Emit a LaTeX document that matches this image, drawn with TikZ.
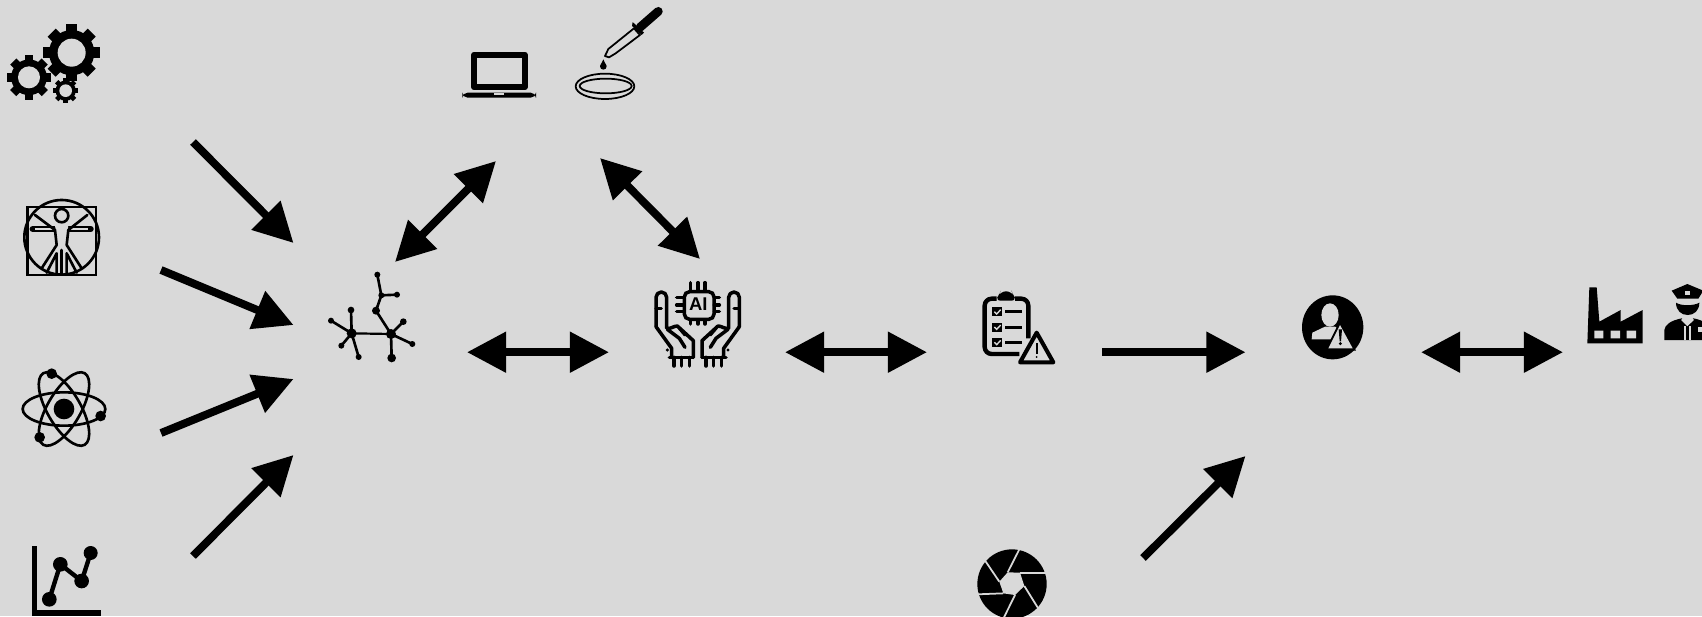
\documentclass[tikz,border=0pt]{standalone}
\usepackage{fontspec}
\setmainfont{Liberation Sans}
\usetikzlibrary{arrows.meta}
\definecolor{bgc}{HTML}{D9D9D9}
\tikzset{
  arrowline/.style={line width=4.5pt,-{Triangle[length=22.3pt,width=22.3pt]}},
  bothline/.style={line width=4.5pt,{Triangle[length=22.3pt,width=22.3pt]}-{Triangle[length=22.3pt,width=22.3pt]}},
  zoomed/.style={x=0.0066667cm,y=-0.0066667cm},
  ink/.style={draw=black,line width=#1*0.25pt},
  ink/.default=5,
  rink/.style={draw=black,line width=#1*0.25pt,line join=round,line cap=round},
  rink/.default=5,
  erase/.style={draw=bgc,line width=#1*0.2pt},
}
\newcommand{\gearicon}[5]{%
  \begin{scope}[shift={(#1,#2)}]
    \fill[black] (0,0) circle (#3*0.8);
    \foreach \a in {0,45,...,315}{
      \fill[black,rotate=\a] (-#5,0) rectangle (#5,#3);
    }
    \fill[bgc] (0,0) circle (#4);
  \end{scope}}
\newcommand{\handicon}{%
  \draw[rink=8] (48,170) -- (48,82) arc[start angle=180,end angle=360,radius=16] -- (80,175)
     .. controls (92,178) and (100,168) .. (112,168) -- (160,212) -- (160,262);
  \draw[rink=8] (48,170) -- (95,235) -- (95,262);
  \draw[rink=8] (88,262) -- (160,262);
  \draw[rink=7] (48,115) -- (64,115);
  \draw[rink=8] (82,178) -- (118,205) -- (135,232);
  \draw[rink=7] (118,175) -- (135,195);
  \fill[black] (82,240) circle (5);
  \foreach \x in {102,125,148}{\draw[rink=8] (\x,262) -- (\x,288);}
}
\begin{document}
\begin{tikzpicture}[x=0.02cm,y=-0.02cm]
\path[use as bounding box] (0,0) rectangle (1702,616);
\fill[bgc] (0,0) rectangle (1702,616);
\clip (0,0) rectangle (1702,616);

% connector end points
\coordinate (a1) at (193,142);   \coordinate (a1e) at (293.5,243);
\coordinate (a2) at (161,270);   \coordinate (a2e) at (293.5,325);
\coordinate (a3) at (161,433);   \coordinate (a3e) at (293.5,379);
\coordinate (a4) at (193,556);   \coordinate (a4e) at (293.5,455);
\coordinate (b1) at (395,262);   \coordinate (b1e) at (496,161);
\coordinate (b2) at (600,158);   \coordinate (b2e) at (700,259);
\coordinate (c1) at (467,352.2); \coordinate (c1e) at (609,352.2);
\coordinate (c2) at (785,352.2); \coordinate (c2e) at (927,352.2);
\coordinate (c3) at (1102,352.2);\coordinate (c3e) at (1245.5,352.2);
\coordinate (c4) at (1421,352.2);\coordinate (c4e) at (1563,352.2);
\coordinate (d1) at (1143,558);  \coordinate (d1e) at (1245.5,456);

\draw[arrowline] (a1) -- (a1e);
\draw[arrowline] (a2) -- (a2e);
\draw[arrowline] (a3) -- (a3e);
\draw[arrowline] (a4) -- (a4e);
\draw[bothline] (b1) -- (b1e);
\draw[bothline] (b2) -- (b2e);
\draw[bothline] (c1) -- (c1e);
\draw[bothline] (c2) -- (c2e);
\draw[arrowline] (c3) -- (c3e);
\draw[bothline] (c4) -- (c4e);
\draw[arrowline] (d1) -- (d1e);

% gears, vitruvian man
\begin{scope}[zoomed]
  \gearicon{215}{158}{85}{42}{17}
  \gearicon{87}{232}{67}{33}{13}
  \gearicon{197}{272}{38}{19}{7}
  \draw[ink=6] (83,621) rectangle (288,825);
  \draw[ink=6] (185,712) circle (112);
  \draw[ink=6] (185,647) circle (20);
  \draw[rink=14] (98,687) -- (272,687);
  \draw[erase=3] (105,687) -- (160,687) (210,687) -- (265,687);
  \fill[bgc] (165,672) -- (205,672) -- (200,735) -- (170,735) -- cycle;
  \draw[rink=6] (105,645) -- (165,690) -- (170,735) -- (125,805);
  \draw[rink=6] (262,645) -- (205,690) -- (200,735) -- (245,805);
  \draw[rink=6] (140,818) -- (170,760) -- (170,820);
  \draw[rink=6] (230,818) -- (200,760) -- (200,820);
  \draw[rink=6] (185,750) -- (185,822);
\end{scope}

% atom, chart
\begin{scope}[shift={(0,340)},zoomed]
  \fill[black] (192,207) circle (31);
  \draw[ink=6] (192,207) ellipse[x radius=124,y radius=50];
  \draw[ink=6,rotate around={60:(192,207)}] (192,207) ellipse[x radius=124,y radius=50];
  \draw[ink=6,rotate around={-60:(192,207)}] (192,207) ellipse[x radius=124,y radius=50];
  \fill[black] (155,101) circle (16) (302,228) circle (16) (119,292) circle (16);
  \fill[black] (95,618) rectangle (111,828);
  \fill[black] (95,809) rectangle (303,828);
  \draw[ink=10] (148,778) -- (181,673) -- (245,723) -- (272,639);
  \fill[black] (148,778) circle (22) (181,673) circle (22) (245,723) circle (22) (272,639) circle (21);
\end{scope}

% molecule
\begin{scope}[shift={(300,250)},zoomed]
  \draw[ink=5] (155,250) -- (273,252);
  \draw[ink=6] (155,250) -- (153,180) (155,250) -- (93,212) (155,250) -- (124,287) (155,250) -- (176,321);
  \draw[ink=6] (273,252) -- (310,215) (273,252) -- (337,282) (273,252) -- (275,324) (273,252) -- (228,182) -- (244,136) -- (291,134) (244,136) -- (232,74);
  \fill[black] (155,250) circle (15) (273,252) circle (15) (153,180) circle (10) (93,212) circle (9)
    (124,287) circle (9) (176,321) circle (9) (310,215) circle (10) (337,282) circle (9)
    (275,324) circle (13) (228,182) circle (12) (244,136) circle (9) (291,134) circle (9) (232,74) circle (9);
\end{scope}

% laptop, dish, pipette
\begin{scope}[shift={(440,0)},zoomed]
  \draw[ink=13,line join=round] (102,164) rectangle (254,262);
  \fill[black,rounded corners=3] (67,278) rectangle (288,293);
  \fill[bgc] (162,278) rectangle (192,285);
  \draw[ink=4] (495,259) ellipse[x radius=88,y radius=38];
  \draw[ink=4] (497,258) ellipse[x radius=78,y radius=22];
  \fill[black] (490,178) -- (481,197) -- (499,197) -- cycle;
  \fill[black] (490,199) circle (10);
  \draw[rink=4] (495,168) -- (505,147) -- (582,85) -- (600,105) -- (527,160) -- (507,172) -- cycle;
  \fill[black] (578,66) -- (612,98) -- (605,105) -- (576,78) -- cycle;
  \draw[rink=20] (600,82) -- (655,34);
\end{scope}

% AI hands
\begin{scope}[shift={(640,270)},zoomed]
  \draw[ink=8,rounded corners=3] (133,65) rectangle (222,148);
  \node[inner sep=0pt,font=\bfseries\fontsize{10.5pt}{11pt}\selectfont] (aitext) at (175,101) {AI};
  \foreach \x in {152,174,195}{\draw[rink=8] (\x,38) -- (\x,63) (\x,150) -- (\x,162);}
  \foreach \y in {82,105,125}{\draw[rink=8] (110,\y) -- (132,\y) (223,\y) -- (238,\y);}
  \handicon
  \begin{scope}[shift={(346,0)},xscale=-1]
    \handicon
  \end{scope}
\end{scope}

% clipboard
\begin{scope}[shift={(960,280)},zoomed]
  \draw[ink=10,rounded corners=4] (110,56) -- (74,56) -- (74,222) -- (178,222);
  \draw[ink=10,rounded corners=4] (165,56) -- (205,56) -- (205,175);
  \fill[black,rounded corners=3] (106,62) -- (116,46) -- (122,34) -- (155,34) -- (160,46) -- (170,62) -- cycle;
  \foreach \y in {82,128,174}{
    \fill[black] (95,\y) rectangle (125,\y+27);
    \draw[erase=4] (103,\y+13) -- (110,\y+20) -- (122,\y+7);
    \fill[black] (135,\y+9) rectangle (186,\y+18);
  }
  \filldraw[fill=bgc,draw=black,line width=2.3pt,line join=round] (230,158) -- (180,247) -- (280,247) -- cycle;
  \draw[line width=1.1pt,black] (230,190) -- (230,222);
  \fill[black] (230,231) circle (3);
\end{scope}

% user warning
\begin{scope}[shift={(1280,280)},zoomed]
  \fill[black] (158,142) ellipse[x radius=92,y radius=96];
  \fill[bgc] (150,105) ellipse[x radius=26,y radius=35];
  \fill[bgc] (95,178) -- (97,158) -- (135,140) -- (165,140) -- (195,160) -- (195,178) -- cycle;
  \fill[black] (180,122) -- (135,212) -- (228,212) -- cycle;
  \fill[bgc] (180,135) -- (145,205) -- (218,205) -- cycle;
  \fill[black] (176,148) -- (186,148) -- (183,184) -- (179,184) -- cycle;
  \fill[black] (181,191) circle (5);
\end{scope}

% factory, officer
\begin{scope}[shift={(1570,270)},zoomed]
  \fill[black] (52,220) -- (58,52) -- (80,52) -- (88,155) -- (152,120) -- (152,155) -- (218,120) -- (218,220) -- cycle;
  \fill[bgc] (73,182) rectangle (100,205) (122,182) rectangle (150,205) (170,182) rectangle (198,205);
  \fill[black] (305,62) -- (352,42) -- (400,62) -- (385,86) -- (322,86) -- cycle;
  \fill[bgc] (345,62) rectangle (360,75);
  \fill[black] (318,98) .. controls (332,108) and (372,108) .. (388,98) .. controls (388,122) and (372,135) .. (353,135) .. controls (334,135) and (318,122) .. (318,98) -- cycle;
  \fill[black] (283,210) -- (283,180) .. controls (285,165) and (300,152) .. (335,145) -- (352,165) -- (370,145) .. controls (400,150) and (420,165) .. (422,180) -- (422,210) -- cycle;
  \draw[erase=5] (335,148) -- (352,165) -- (370,148);
  \draw[erase=5] (346,168) -- (346,210) (360,168) -- (360,210);
  \fill[bgc] (385,170) rectangle (396,185);
\end{scope}

% aperture
\begin{scope}[shift={(960,530)},zoomed]
  \fill[black] (156,162) circle (104);
  \fill[bgc] (143,127) -- (180,128) -- (193,168) -- (165,195) -- (130,190) -- (118,155) -- cycle;
  \draw[erase=5] (143,127) -- (178,58);
  \draw[erase=5] (180,128) -- (260,128);
  \draw[erase=5] (193,168) -- (234,234);
  \draw[erase=5] (165,195) -- (132,262);
  \draw[erase=5] (130,190) -- (50,193);
  \draw[erase=5] (118,155) -- (76,93);
\end{scope}
\end{tikzpicture}
\end{document}
